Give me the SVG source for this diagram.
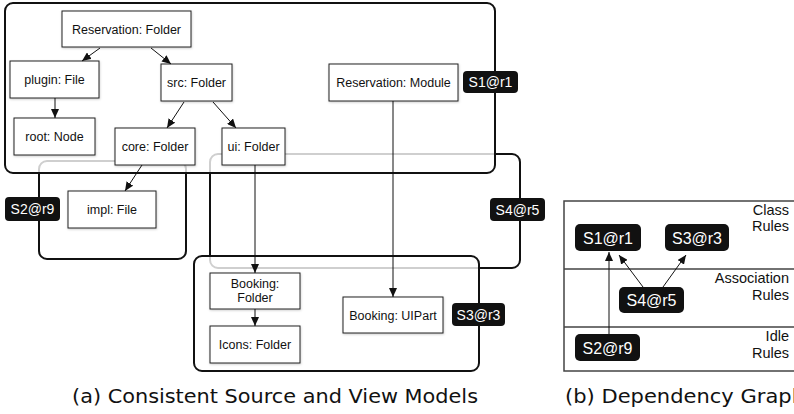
<svg xmlns="http://www.w3.org/2000/svg" width="794" height="414" viewBox="0 0 794 414">
<style>
.node rect{fill:#fff;stroke:#222;stroke-width:1;filter:url(#sh)}
.node text{font-family:"Liberation Sans",Arial,sans-serif;font-size:12.5px;fill:#111;text-anchor:middle}
.region{stroke:#111;stroke-width:2}
.tag rect{fill:#111}
.tag text{font-family:"Liberation Sans",Arial,sans-serif;font-size:14px;fill:#fff;text-anchor:middle}
.gtag rect{fill:#111}
.gtag text{font-family:"Liberation Sans",Arial,sans-serif;font-size:16px;fill:#fff;text-anchor:middle}
.conn line{stroke:#111;stroke-width:1;marker-end:url(#ah)}
.lane{stroke:#444;stroke-width:1.5;fill:none}
.lanet{font-family:"Liberation Sans",Arial,sans-serif;font-size:14.5px;fill:#111;text-anchor:end}
.cap{font-family:"DejaVu Sans",sans-serif;font-size:19px;fill:#111}
</style>
<defs>
<marker id="ah" markerWidth="9" markerHeight="8" refX="9" refY="4" orient="auto" markerUnits="userSpaceOnUse">
<path d="M0,0 L9,4 L0,8 Z" fill="#111"/>
</marker>
<filter id="sh" x="-20%" y="-20%" width="140%" height="150%">
<feDropShadow dx="0.5" dy="1" stdDeviation="1.2" flood-color="#000" flood-opacity="0.2"/>
</filter>
</defs>

<!-- regions (a) -->
<g id="region-S2"><rect class="region" x="39" y="161" width="147" height="98" rx="8" fill="none"/></g>
<g id="region-S4"><rect class="region" x="210" y="154" width="310" height="114" rx="8" fill="none"/></g>
<g id="region-S1"><rect class="region" x="5" y="3" width="490" height="170" rx="8" fill="#fff" fill-opacity="0.8"/></g>
<g id="region-S3"><rect class="region" x="194" y="256" width="285" height="115" rx="8" fill="#fff" fill-opacity="0.8"/></g>

<!-- nodes (a) -->
<g id="n-res-folder" class="node"><rect x="62" y="11" width="129" height="36"/><text x="126.5" y="33.5">Reservation: Folder</text></g>
<g id="n-plugin" class="node"><rect x="10" y="61" width="89" height="37"/><text x="54.5" y="84">plugin: File</text></g>
<g id="n-src" class="node"><rect x="161" y="64" width="71" height="37"/><text x="196.5" y="87">src: Folder</text></g>
<g id="n-root" class="node"><rect x="14" y="118" width="81" height="37"/><text x="54.5" y="141">root: Node</text></g>
<g id="n-core" class="node"><rect x="115" y="128" width="80" height="37"/><text x="155" y="151">core: Folder</text></g>
<g id="n-ui" class="node"><rect x="222" y="128" width="63" height="37"/><text x="253.5" y="151">ui: Folder</text></g>
<g id="n-res-module" class="node"><rect x="329" y="64" width="129" height="37"/><text x="393.5" y="87">Reservation: Module</text></g>
<g id="n-impl" class="node"><rect x="68" y="191" width="88" height="37"/><text x="112" y="214">impl: File</text></g>
<g id="n-booking-folder" class="node"><rect x="210" y="273" width="90" height="36"/><text x="255" y="288">Booking:</text><text x="255" y="302">Folder</text></g>
<g id="n-icons" class="node"><rect x="210" y="326" width="90" height="37"/><text x="255" y="349">Icons: Folder</text></g>
<g id="n-uipart" class="node"><rect x="343" y="297" width="100" height="36"/><text x="393" y="319.5">Booking: UIPart</text></g>

<!-- region tags (a) -->
<g id="tag-S1" class="tag"><rect x="463" y="71" width="55" height="22" rx="4"/><text x="490.5" y="87">S1@r1</text></g>
<g id="tag-S2" class="tag"><rect x="5" y="197" width="55" height="24" rx="4"/><text x="32.5" y="214">S2@r9</text></g>
<g id="tag-S4" class="tag"><rect x="490" y="198" width="55" height="23" rx="4"/><text x="517.5" y="214.5">S4@r5</text></g>
<g id="tag-S3" class="tag"><rect x="452" y="303" width="53" height="23" rx="4"/><text x="478.5" y="319.5">S3@r3</text></g>

<!-- connectors (a) -->
<g id="connectors-a" class="conn">
<line x1="100" y1="48" x2="82" y2="61"/>
<line x1="151" y1="48" x2="171" y2="64"/>
<line x1="55" y1="98" x2="55" y2="118"/>
<line x1="184" y1="102" x2="167" y2="128"/>
<line x1="213" y1="102" x2="236" y2="128"/>
<line x1="142" y1="165" x2="125" y2="191"/>
<line x1="255" y1="165" x2="255" y2="273"/>
<line x1="393" y1="101" x2="393" y2="297"/>
<line x1="255" y1="309" x2="255" y2="326"/>
</g>

<!-- panel (b) -->
<g id="lanes">
<path class="lane" d="M800,201 H564 V371 H800 M564,269 H800 M564,327 H800"/>
<text class="lanet" x="789" y="215">Class</text>
<text class="lanet" x="789" y="231">Rules</text>
<text class="lanet" x="789" y="283">Association</text>
<text class="lanet" x="789" y="300">Rules</text>
<text class="lanet" x="789" y="341">Idle</text>
<text class="lanet" x="789" y="358">Rules</text>
</g>
<g id="g-S1" class="gtag"><rect x="575" y="224" width="66" height="27" rx="5"/><text x="608" y="243.5">S1@r1</text></g>
<g id="g-S3" class="gtag"><rect x="665" y="224" width="64" height="27" rx="5"/><text x="697" y="243.5">S3@r3</text></g>
<g id="g-S4" class="gtag"><rect x="619" y="287" width="65" height="26" rx="5"/><text x="651.5" y="306">S4@r5</text></g>
<g id="g-S2" class="gtag"><rect x="575" y="334" width="65" height="27" rx="5"/><text x="607.5" y="353.5">S2@r9</text></g>
<g id="connectors-b" class="conn">
<line x1="609" y1="334" x2="609" y2="252"/>
<line x1="643" y1="287" x2="619" y2="255"/>
<line x1="663" y1="287" x2="686" y2="255"/>
</g>

<!-- captions -->
<text class="cap" x="72" y="403" textLength="406" lengthAdjust="spacingAndGlyphs">(a) Consistent Source and View Models</text>
<text class="cap" x="565" y="403" textLength="240" lengthAdjust="spacingAndGlyphs">(b) Dependency Graph</text>
</svg>
